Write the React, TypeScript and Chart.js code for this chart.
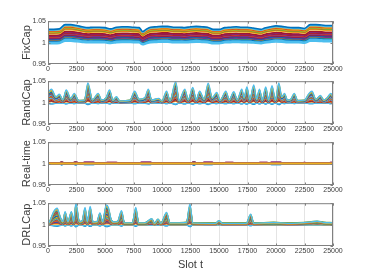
import React, { useEffect, useRef } from "react";
import { Chart, registerables } from "chart.js";
Chart.register(...registerables);

// ---------- shared axes ----------
const X_TICKS = [0, 2500, 5000, 7500, 10000, 12500, 15000, 17500, 20000, 22500, 25000];
const Y_TICKS = [0.95, 1, 1.05];
const PANEL_LABELS = ["FixCap", "RandCap", "Real-time", "DRLCap"];
const X_TITLE = "Slot t";
const MATLAB_COLORS = ["#0072BD", "#D95319", "#EDB120", "#7E2F8E", "#77AC30", "#4DBEEE", "#A2142F"];

// ---------- FixCap ----------
const FIX_SLOTS = [0, 500, 1000, 1500, 2000, 2500, 3000, 3500, 4000, 4500, 5000, 5500, 6000, 6500, 7000, 7500, 8000, 8300, 8600, 9000, 9500, 10000, 10500, 11000, 11500, 12000, 12500, 13000, 13500, 14000, 14500, 15000, 15500, 16000, 16500, 17000, 17500, 18000, 18700, 19000, 19500, 20000, 20500, 21000, 21500, 22000, 22500, 23000, 23500, 24000, 24500, 25000];
const FIX_SHAPE = [-0.005, -0.005, -0.004, 0.006, 0.006, 0.004, 0.001, -0.001, 0.0, 0.0, -0.001, -0.004, 0.0, 0.001, 0.001, 0.0, -0.001, -0.01, -0.005, 0.0, 0.001, 0.002, 0.002, 0.0, 0.0, -0.001, 0.001, 0.002, 0.001, 0.0, -0.005, -0.005, -0.001, 0.0, 0.001, 0.0, 0.0, -0.002, -0.005, -0.002, 0.001, 0.003, 0.002, 0.0, -0.001, -0.001, -0.003, 0.006, 0.006, 0.005, 0.004, 0.004];
const FIX_OFFSETS = [0.036, 0.034, 0.033, 0.031, 0.030, 0.028, 0.027, 0.025, 0.021, 0.0195, 0.018, 0.017, 0.015, 0.0135, 0.012, 0.010, 0.009, 0.007, 0.004, 0.002, 0.0];
const FIX_AMPS = [1.0, 0.97, 0.95, 0.93, 0.91, 0.9, 0.88, 0.86, 0.82, 0.8, 0.78, 0.76, 0.74, 0.72, 0.7, 0.68, 0.66, 0.62, 0.58, 0.55, 0.5];
const FIX_COLORS = [0, 5, 2, 1, 2, 4, 1, 2, 6, 3, 6, 1, 3, 6, 0, 3, 4, 0, 5, 5, 5];

// ---------- RandCap ----------
const RAND_SLOTS = [0, 300, 700, 1000, 1300, 1600, 2000, 2300, 2700, 3200, 3500, 3900, 4400, 4700, 5100, 5400, 5700, 6000, 6300, 7200, 7600, 8000, 8500, 8800, 9100, 9700, 10000, 10400, 10700, 11200, 11500, 12000, 12300, 12700, 13000, 13300, 13700, 14050, 14400, 14800, 15100, 15600, 15900, 16300, 16600, 17000, 17200, 17450, 17700, 18050, 18300, 18550, 18800, 19100, 19350, 19650, 19950, 20250, 20500, 20750, 21000, 21300, 21600, 21900, 22500, 22900, 23150, 23500, 23900, 24200, 24500, 24800, 25000];
const RAND_ENV = [0.022, 0.03, 0.012, 0.018, 0.005, 0.028, 0.008, 0.02, 0.003, 0.004, 0.045, 0.005, 0.02, 0.004, 0.01, 0.028, 0.004, 0.012, 0.002, 0.004, 0.025, 0.006, 0.01, 0.03, 0.004, 0.008, 0.002, 0.025, 0.003, 0.048, 0.003, 0.03, 0.005, 0.034, 0.005, 0.025, 0.006, 0.044, 0.01, 0.022, 0.004, 0.025, 0.005, 0.024, 0.005, 0.03, 0.01, 0.035, 0.005, 0.04, 0.006, 0.03, 0.004, 0.035, 0.004, 0.038, 0.004, 0.045, 0.012, 0.02, 0.004, 0.006, 0.02, 0.003, 0.004, 0.02, 0.025, 0.006, 0.015, 0.004, 0.01, 0.02, 0.012];
const RAND_SCALES = [0.98, 0.93, 0.87, 0.82, 0.77, 0.72, 0.68, 0.64, 0.6, 0.56, 0.52, 0.48, 0.45, 0.42, 0.38, 0.35, 0.32, 0.28, 0.25, 0.22, 0.19, 0.16, 0.13, 0.1, 0.07, 0.04, -0.05, -0.1];
const RAND_OFFSETS = [0.002, 0.001, 0.002, 0.0, 0.001, 0.003, 0.001, 0.002, 0.0, 0.001, 0.002, 0.0, 0.001, 0.003, 0.002, 0.0, 0.001, 0.002, 0.0, 0.001, 0.002, 0.0, 0.001, 0.0, 0.002, 0.001, -0.001, 0.0];
const RAND_COLORS = [5, 2, 4, 0, 1, 2, 3, 4, 5, 6, 0, 1, 2, 3, 4, 5, 6, 0, 1, 2, 3, 6, 0, 1, 3, 2, 5, 0];

// ---------- Real-time ----------
const REAL_SLOTS = [0, 1000, 1200, 1400, 2200, 2400, 2700, 3000, 3200, 4000, 4200, 5000, 5200, 6000, 6200, 8000, 8200, 9000, 9200, 12600, 12800, 13000, 13500, 13700, 14400, 14600, 15400, 15600, 16200, 16400, 18400, 18600, 19200, 19400, 19600, 20400, 20600, 22300, 22500, 22700, 24600, 24800, 25000];
const REAL_ENV = [0.0005, 0.0005, 0.003, 0.0005, 0.0005, 0.003, 0.0005, 0.0005, 0.002, 0.002, 0.0005, 0.0005, 0.0015, 0.0015, 0.0005, 0.0005, 0.002, 0.002, 0.0005, 0.0005, 0.004, 0.0005, 0.0005, 0.002, 0.002, 0.0005, 0.0005, 0.0015, 0.0015, 0.0005, 0.0005, 0.0015, 0.0015, 0.0005, 0.002, 0.002, 0.0005, 0.0005, 0.0015, 0.0005, 0.0005, 0.0015, 0.0015];
const REAL_SCALES = [0.1, -0.1, 0.6, -0.5, 0.9, -1.0, 0.3, 0.7, -0.3, 0.5, -0.6, 0.2, 0.8, -0.2, 0.4, -0.9, 0.0, 0.65, -0.4, 0.35];
const REAL_OFFSETS = [0.0003, 0.0, 0.001, -0.0005, 0.0, 0.0005, 0.0, 0.001, 0.0, -0.0005, 0.0005, 0.0, 0.001, 0.0, 0.0, 0.0005, 0.0, -0.0005, 0.0, 0.0005];
const REAL_COLORS = [2, 1, 3, 5, 4, 0, 2, 6, 1, 3, 5, 4, 3, 0, 6, 5, 2, 4, 1, 3];

// ---------- DRLCap ----------
const DRL_SLOTS = [0, 200, 500, 800, 1100, 1300, 1500, 1750, 2050, 2250, 2450, 2750, 3000, 3250, 3450, 3700, 3950, 4300, 4550, 4800, 5100, 5300, 5550, 5800, 6100, 6450, 6700, 7400, 7700, 7950, 8500, 9100, 9350, 9650, 9900, 10400, 10700, 11500, 12150, 12450, 12700, 14700, 15000, 15300, 17400, 17780, 18050, 19800, 21000, 23000, 23600, 24200, 25000];
const DRL_ENV = [0.0, 0.01, 0.03, 0.038, 0.015, 0.006, 0.03, 0.006, 0.03, 0.006, 0.05, 0.006, 0.008, 0.04, 0.006, 0.042, 0.005, 0.006, 0.027, 0.005, 0.046, 0.04, 0.01, 0.005, 0.006, 0.032, 0.003, 0.003, 0.04, 0.003, 0.003, 0.013, 0.002, 0.012, 0.002, 0.028, 0.003, 0.003, 0.004, 0.048, 0.003, 0.002, 0.008, 0.002, 0.002, 0.024, 0.002, 0.004, 0.002, 0.005, 0.007, 0.004, 0.003];
const DRL_SCALES = [0.98, 0.93, 0.87, 0.82, 0.77, 0.72, 0.68, 0.64, 0.6, 0.56, 0.52, 0.48, 0.45, 0.42, 0.38, 0.35, 0.32, 0.28, 0.25, 0.22, 0.19, 0.16, 0.13, 0.1, 0.07, 0.04, -0.05, -0.1];
const DRL_OFFSETS = [0.001, 0.0, 0.002, 0.001, 0.0, 0.002, 0.001, 0.0, 0.001, 0.002, 0.0, 0.001, 0.0, 0.002, 0.001, 0.0, 0.001, 0.002, 0.0, 0.001, 0.0, 0.002, 0.001, 0.0, 0.001, 0.0, -0.001, 0.0];
const DRL_COLORS = [5, 2, 4, 0, 1, 2, 3, 4, 5, 6, 0, 1, 2, 3, 4, 5, 6, 0, 1, 2, 3, 6, 0, 1, 3, 2, 5, 0];

// ---------- layout / style ----------
const PANEL_TOPS = [21, 81, 142, 203];
const PLOT_H = 43;
const PLOT_LEFT = 48;
const PLOT_RIGHT = 333;
const W = 368;
const BOX_COLOR = "#808080";
const GRID_COLOR = "#e4e4e4";
const TEXT_COLOR = "#3c3c3c";
const FONT = "'Liberation Sans', Arial, Helvetica, sans-serif";

type DS = { data: { x: number; y: number }[]; borderColor: string };

function buildOffsetSeries(slots: number[], shape: number[], offsets: number[], amps: number[], colorIdx: number[], base = 1): DS[] {
  return offsets.map((o, i) => ({
    data: slots.map((s, j) => ({ x: s, y: base + o + amps[i] * shape[j] })),
    borderColor: MATLAB_COLORS[colorIdx[i] % MATLAB_COLORS.length],
  }));
}
function buildScaledSeries(slots: number[], env: number[], scales: number[], offsets: number[], colorIdx: number[], base = 1): DS[] {
  return scales.map((k, i) => ({
    data: slots.map((s, j) => ({ x: s, y: base + offsets[i] + k * env[j] })),
    borderColor: MATLAB_COLORS[colorIdx[i] % MATLAB_COLORS.length],
  }));
}

const PANEL_DATA: DS[][] = [
  buildOffsetSeries(FIX_SLOTS, FIX_SHAPE, FIX_OFFSETS, FIX_AMPS, FIX_COLORS),
  buildScaledSeries(RAND_SLOTS, RAND_ENV, RAND_SCALES, RAND_OFFSETS, RAND_COLORS),
  buildScaledSeries(REAL_SLOTS, REAL_ENV, REAL_SCALES, REAL_OFFSETS, REAL_COLORS),
  buildScaledSeries(DRL_SLOTS, DRL_ENV, DRL_SCALES, DRL_OFFSETS, DRL_COLORS),
];
const PANEL_LINE_W = [1.6, 1.4, 1.8, 1.4];

const boxPlugin = {
  id: "matlabBox",
  afterDraw(chart: any) {
    const { ctx, chartArea: a, scales } = chart;
    ctx.save();
    ctx.strokeStyle = BOX_COLOR;
    ctx.lineWidth = 1;
    ctx.strokeRect(a.left + 0.5, a.top + 0.5, a.right - a.left - 1, a.bottom - a.top - 1);
    const tl = 2.5;
    ctx.beginPath();
    scales.x.ticks.forEach((t: any) => {
      const x = Math.round(scales.x.getPixelForValue(t.value)) + 0.5;
      ctx.moveTo(x, a.bottom);
      ctx.lineTo(x, a.bottom - tl);
      ctx.moveTo(x, a.top);
      ctx.lineTo(x, a.top + tl);
    });
    scales.y.ticks.forEach((t: any) => {
      const y = Math.round(scales.y.getPixelForValue(t.value)) + 0.5;
      ctx.moveTo(a.left, y);
      ctx.lineTo(a.left + tl, y);
      ctx.moveTo(a.right, y);
      ctx.lineTo(a.right - tl, y);
    });
    ctx.stroke();
    ctx.restore();
  },
};

function Panel({ index }: { index: number }) {
  const ref = useRef<HTMLCanvasElement | null>(null);
  const isLast = index === PANEL_LABELS.length - 1;
  const padTop = 6;
  const axisH = isLast ? 30 : 11;
  const canvasTop = PANEL_TOPS[index] - padTop;
  const canvasH = padTop + PLOT_H + axisH;

  useEffect(() => {
    if (!ref.current) return;
    const datasets = PANEL_DATA[index].map((d) => ({
      data: d.data,
      borderColor: d.borderColor,
      borderWidth: PANEL_LINE_W[index],
      borderJoinStyle: "round",
      pointRadius: 0,
      cubicInterpolationMode: "monotone",
      fill: false,
    }));
    const chart = new Chart(ref.current, {
      type: "line",
      data: { datasets },
      plugins: [boxPlugin],
      options: {
        animation: false,
        responsive: false,
        parsing: false as any,
        layout: { padding: { top: padTop, right: W - PLOT_RIGHT, left: 0, bottom: 0 } },
        plugins: { legend: { display: false }, tooltip: { enabled: false } },
        scales: {
          x: {
            type: "linear",
            min: 0,
            max: 25000,
            afterBuildTicks: (s: any) => {
              s.ticks = X_TICKS.map((v) => ({ value: v }));
            },
            afterFit: (s: any) => {
              s.height = axisH;
            },
            ticks: {
              autoSkip: false,
              maxRotation: 0,
              padding: 1,
              color: TEXT_COLOR,
              font: { family: FONT, size: 7 },
              callback: (v: any) => String(v),
            },
            grid: { display: true, color: GRID_COLOR, lineWidth: 1, drawTicks: false },
            border: { display: false },
            title: {
              display: isLast,
              text: X_TITLE,
              color: TEXT_COLOR,
              font: { family: FONT, size: 11 },
              padding: { top: 0, bottom: 4.4 },
            },
          },
          y: {
            type: "linear",
            min: 0.95,
            max: 1.05,
            afterBuildTicks: (s: any) => {
              s.ticks = Y_TICKS.map((v) => ({ value: v }));
            },
            afterFit: (s: any) => {
              s.width = PLOT_LEFT;
            },
            ticks: {
              padding: 2,
              color: TEXT_COLOR,
              font: { family: FONT, size: 7 },
              callback: (v: any) => String(v),
            },
            grid: { display: false, drawTicks: false },
            border: { display: false },
            title: {
              display: true,
              text: PANEL_LABELS[index],
              color: TEXT_COLOR,
              font: { family: FONT, size: 11 },
              padding: { top: 20.4, bottom: 0 },
            },
          },
        },
      },
    } as any);
    return () => chart.destroy();
  }, [index]);

  return (
    <canvas
      ref={ref}
      width={W}
      height={canvasH}
      style={{ position: "absolute", left: 0, top: canvasTop, width: W, height: canvasH }}
    />
  );
}

export default function App() {
  return (
    <div style={{ position: "fixed", left: 0, top: 0, width: W, height: 276, background: "#fff", overflow: "hidden" }}>
      {PANEL_LABELS.map((_, i) => (
        <Panel key={i} index={i} />
      ))}
    </div>
  );
}
